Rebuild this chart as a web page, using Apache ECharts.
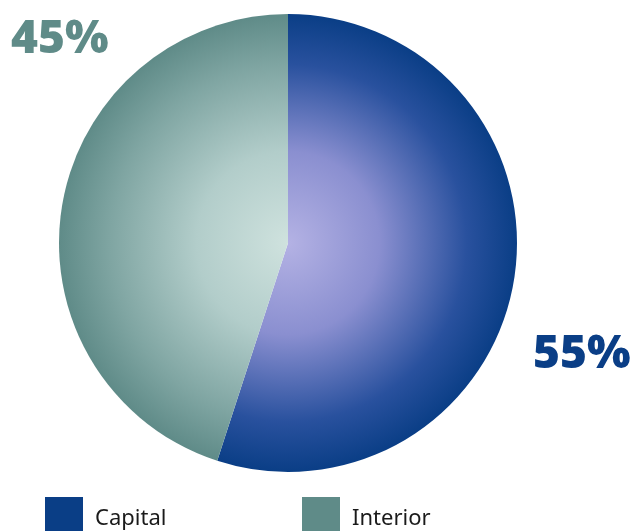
<!DOCTYPE html>
<html>
<head>
<meta charset="utf-8">
<script src="https://cdn.jsdelivr.net/npm/echarts@6/dist/echarts.min.js"></script>
<style>
  html, body { margin: 0; padding: 0; background: #ffffff; }
  #chart { width: 633px; height: 531px; }
</style>
</head>
<body>
<div id="chart"></div>
<script>
// Share of the total by region
const categories = ['Capital', 'Interior'];
const shares = [55, 45];
const colors = ['#0a3e86', '#5f8b88'];
const centerColors = ['#b4b2e4', '#cfe2de'];

const chart = echarts.init(document.getElementById('chart'), null, { renderer: 'canvas' });

const cx = 288, cy = 243, R = 229;

function shade(i) {
  return {
    type: 'radial', x: cx, y: cy, r: R, global: true,
    colorStops: [
      { offset: 0, color: centerColors[i] },
      { offset: 0.4, color: i === 0 ? '#8a8fd0' : '#b2cdca' },
      { offset: 0.78, color: i === 0 ? '#29519e' : '#7fa5a2' },
      { offset: 1, color: colors[i] }
    ]
  };
}

// Value labels sit outside the pie: Capital lower right, Interior upper left
const labelSpots = [
  { x: 533, y: 355, align: 'left' },
  { x: 11, y: 40, align: 'left' }
];

chart.setOption({
  animation: false,
  legend: categories.map((name, i) => ({
    data: [{ name: name, itemStyle: { color: colors[i] } }],
    left: i === 0 ? 45 : 302,
    top: 497,
    padding: 0,
    orient: 'horizontal',
    icon: 'rect',
    itemWidth: 38,
    itemHeight: 34,
    selectedMode: false,
    formatter: '{t|{name}}',
    textStyle: {
      rich: {
        t: {
          fontFamily: 'Noto Sans',
          fontSize: 22,
          color: '#1a1a1a',
          padding: [10, 0, 0, 7]
        }
      }
    }
  })),
  series: [{
    type: 'pie',
    center: [cx, cy],
    radius: R,
    startAngle: 90,
    clockwise: true,
    silent: true,
    data: categories.map((name, i) => ({
      name: name,
      value: shares[i],
      itemStyle: { color: shade(i) },
      label: { color: colors[i] }
    })),
    label: {
      show: true,
      position: 'inside',
      formatter: '{c}%',
      fontFamily: 'Noto Sans',
      fontWeight: 900,
      fontSize: 46,
      overflow: 'none'
    },
    labelLine: { show: false },
    labelLayout: function (p) {
      const s = labelSpots[p.dataIndex];
      return { x: s.x, y: s.y, align: s.align, verticalAlign: 'middle', hideOverlap: false, moveOverlap: null };
    },
    emphasis: { disabled: true }
  }]
});
</script>
</body>
</html>
